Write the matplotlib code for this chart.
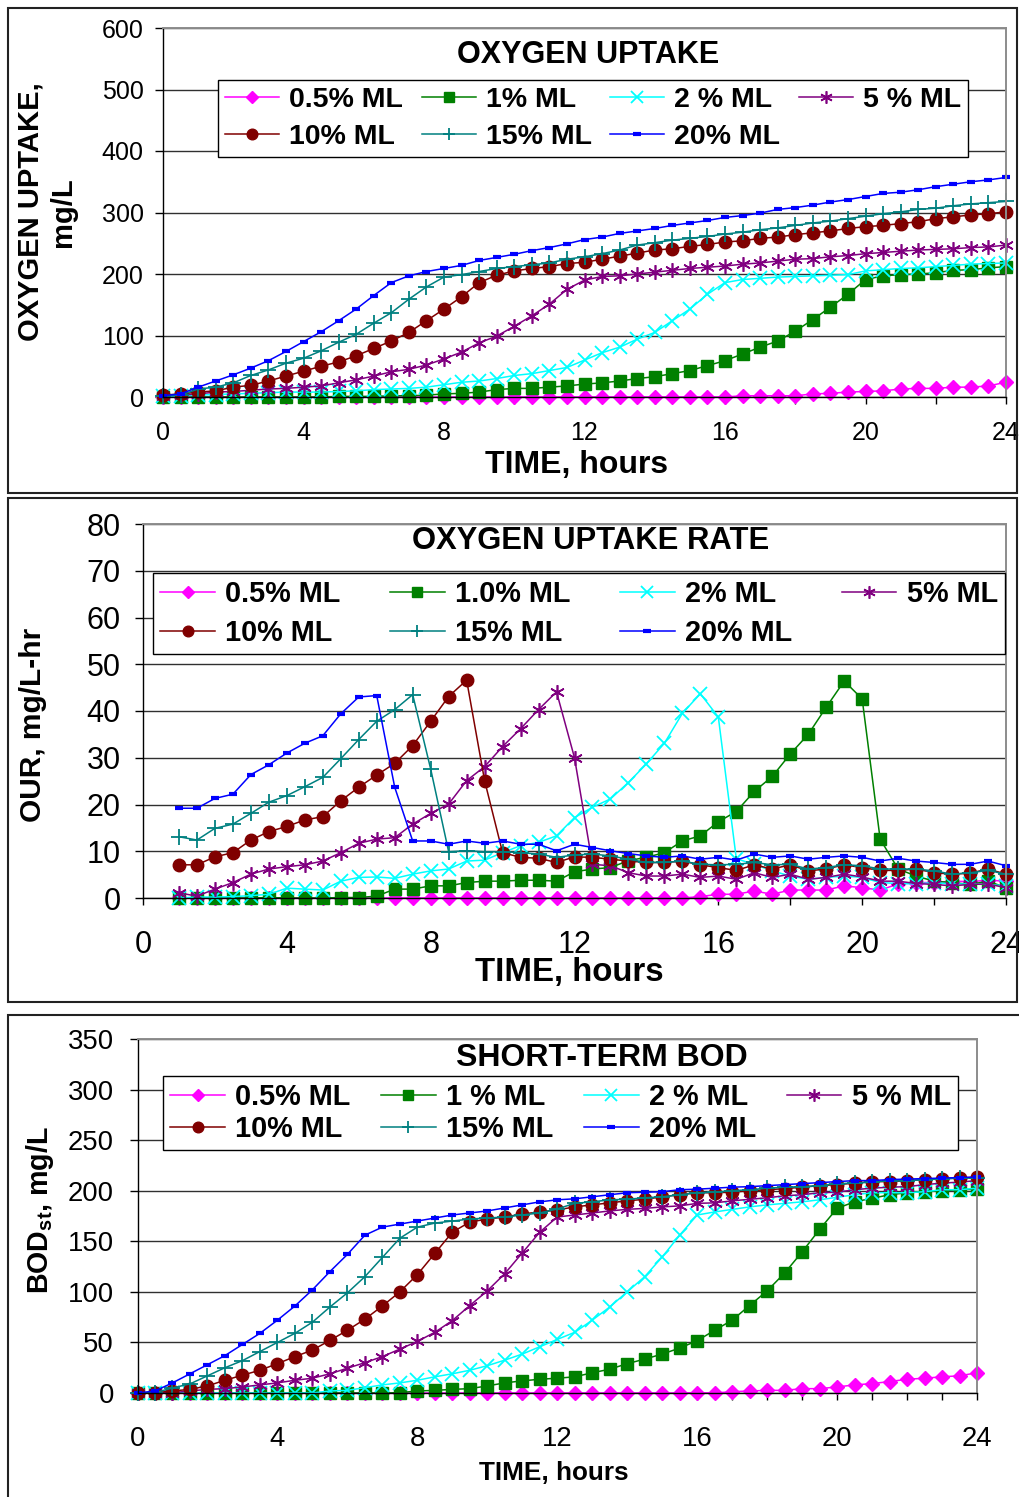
import matplotlib
matplotlib.use("Agg")
import matplotlib.pyplot as plt
from matplotlib.patches import Rectangle

plt.rcParams['font.family'] = ['Liberation Sans', 'DejaVu Sans']
plt.rcParams['mathtext.fontset'] = 'custom'
plt.rcParams['mathtext.rm'] = 'Liberation Sans:bold'
plt.rcParams['mathtext.bf'] = 'Liberation Sans:bold'

W, H = 1019, 1497

# sampling times, hours
HOURS = [0, 0.5, 1, 1.5, 2, 2.5, 3, 3.5, 4, 4.5, 5, 5.5, 6, 6.5, 7, 7.5, 8, 8.5,
         9, 9.5, 10, 10.5, 11, 11.5, 12, 12.5, 13, 13.5, 14, 14.5, 15, 15.5, 16,
         16.5, 17, 17.5, 18, 18.5, 19, 19.5, 20, 20.5, 21, 21.5, 22, 22.5, 23,
         23.5, 24]
OUR_HOURS = [1, 1.5, 2, 2.5, 3, 3.5, 4, 4.5, 5, 5.5, 6, 6.5, 7, 7.5, 8, 8.5,
             9, 9.5, 10, 10.5, 11, 11.5, 12, 12.5, 13, 13.5, 14, 14.5, 15, 15.5,
             16, 16.5, 17, 17.5, 18, 18.5, 19, 19.5, 20, 20.5, 21, 21.5, 22,
             22.5, 23, 23.5, 24]

# ---- OXYGEN UPTAKE, mg/L ----
UP_05 = [0, 0, 0, 0, 0, 0, 0, 0, 0, 0, 0, 0, 0, 0, 0, 0, 0, 0, 0, 0, 0, 0, 0, 0, 0,
         0, 0, 0, 0, 0, 0, 0, 0, 2, 2, 2, 2, 5, 6, 8, 9, 10, 13, 14, 14, 16, 16, 18, 24]
UP_1 = [0, 0, 0, 0, 0, 0, 0, 0, 0, 0, 1, 1, 1, 2, 2, 3, 5, 6, 8, 12, 14, 14, 16, 18, 21,
        23, 26, 30, 33, 38, 43, 51, 59, 70, 81, 91, 107, 126, 146, 167, 191, 197, 199,
        200, 202, 206, 207, 210, 212]
UP_2 = [1, 2, 3, 4, 5, 6, 7, 8, 8, 8, 9, 10, 12, 13, 14, 16, 20, 24, 26, 30, 35, 38, 43,
        48, 60, 72, 81, 94, 105, 124, 143, 167, 186, 191, 193, 195, 196, 197, 198, 199,
        205, 207, 209, 210, 212, 214, 216, 217, 218]
UP_5 = [2, 3, 5, 8, 9, 11, 13, 14, 16, 18, 23, 28, 34, 41, 45, 52, 62, 73, 88, 99, 115,
        132, 151, 175, 190, 196, 197, 200, 203, 206, 209, 211, 213, 216, 218, 221, 224,
        225, 228, 230, 233, 235, 237, 239, 240, 241, 243, 244, 247]
UP_10 = [3, 5, 8, 10, 16, 19, 26, 34, 42, 50, 57, 67, 79, 91, 105, 124, 143, 163, 186,
         198, 205, 209, 212, 217, 219, 224, 229, 234, 239, 241, 245, 248, 252, 254, 258,
         260, 264, 267, 270, 274, 277, 279, 282, 285, 290, 293, 296, 298, 301]
UP_15 = [2, 3, 13, 16, 23, 35, 44, 55, 63, 75, 89, 102, 120, 137, 159, 179, 195, 199,
         204, 209, 212, 215, 218, 224, 228, 233, 239, 247, 251, 255, 258, 261, 265, 268,
         272, 275, 279, 283, 286, 290, 294, 298, 301, 305, 307, 311, 314, 316, 318]
UP_20 = [2, 5, 16, 26, 36, 47, 59, 74, 90, 106, 124, 143, 165, 186, 197, 204, 209, 214,
         222, 227, 232, 238, 243, 249, 256, 260, 266, 270, 274, 279, 283, 287, 292, 295,
         299, 305, 308, 312, 317, 321, 326, 331, 333, 337, 342, 346, 350, 353, 357]

# ---- OXYGEN UPTAKE RATE, mg/L-hr ----
OUR_05 = [0, 0, 0, 0, 0, 0, 0, 0, 0, 0, 0, 0, 0, 0, 0, 0, 0, 0, 0, 0, 0, 0, 0, 0, 0,
          0, 0, 0, 0, 0.3, 0.8, 0.8, 1.5, 0.8, 1.7, 1.7, 1.7, 2.6, 2.2, 1.7, 3.0, 3.3,
          3.3, 3.6, 3.5, 3.8, 3.6]
OUR_1 = [0, 0, 0, 0, 0, 0.1, 0, 0, 0, 0.1, 0.1, 0.4, 1.9, 1.9, 2.6, 2.6, 3.3, 3.6, 3.6,
         3.8, 3.8, 3.6, 5.6, 6.2, 6.5, 8.0, 8.7, 9.7, 12.2, 13.3, 16.3, 18.5, 22.8, 26.0,
         30.8, 35.0, 40.8, 46.4, 42.6, 12.6, 6.2, 4.7, 3.6, 3.3, 2.9, 3.6, 2.2]
OUR_2 = [0.0, 0.2, 0.2, 0.3, 0.5, 0.8, 2.1, 1.9, 1.7, 3.6, 4.4, 4.5, 4.2, 5.1, 5.8, 6.2,
         7.9, 8.1, 9.7, 11.2, 11.9, 13.3, 17.2, 19.4, 21.2, 24.7, 28.7, 33.1, 39.5, 43.7,
         38.7, 8.4, 7.2, 5.8, 4.7, 4.0, 4.4, 4.7, 4.4, 3.3, 3.1, 3.0, 3.3, 3.0, 3.0, 2.9,
         2.6]
OUR_5 = [1.1, 0.4, 1.9, 3.3, 5.1, 6.2, 6.7, 7.1, 7.9, 9.7, 11.7, 12.6, 12.9, 15.8, 18.1,
         20.1, 25.1, 28.1, 32.4, 36.2, 40.3, 44.1, 30.0, 7.2, 6.9, 5.4, 4.7, 4.7, 5.1,
         4.4, 4.7, 4.0, 5.4, 4.4, 5.1, 4.0, 4.4, 5.1, 4.5, 3.6, 3.6, 3.1, 2.9, 2.6, 2.9,
         3.0, 2.2]
OUR_10 = [7.1, 7.1, 8.8, 9.7, 12.4, 14.2, 15.3, 16.7, 17.4, 20.8, 23.7, 26.3, 28.8,
          32.6, 37.8, 43.1, 46.6, 25.1, 9.7, 8.7, 8.5, 7.6, 8.8, 8.7, 8.3, 7.9, 7.6, 7.6,
          7.9, 7.1, 6.5, 5.9, 7.1, 6.2, 7.1, 5.8, 6.2, 7.1, 6.5, 5.9, 5.9, 6.2, 5.4, 5.1,
          5.3, 6.2, 5.1]
OUR_15 = [13.1, 12.4, 14.9, 15.8, 18.1, 20.5, 21.9, 23.8, 25.8, 29.8, 33.9, 37.8, 40.3,
          43.5, 27.6, 9.9, 10.1, 9.9, 9.9, 9.7, 9.4, 8.7, 9.2, 9.4, 9.0, 8.3, 7.6, 7.6,
          7.9, 7.2, 7.1, 7.2, 7.6, 7.1, 7.2, 6.2, 6.5, 7.1, 6.9, 6.2, 6.2, 6.2, 5.8, 5.1,
          5.4, 5.9, 5.1]
OUR_20 = [19.2, 19.2, 21.3, 22.2, 26.4, 28.5, 31.0, 33.1, 34.7, 39.4, 43.0, 43.3, 23.7,
          12.2, 12.2, 11.5, 12.2, 11.7, 12.2, 11.5, 11.5, 10.1, 11.5, 10.8, 10.1, 9.5,
          9.0, 8.7, 9.0, 8.3, 8.7, 8.1, 9.4, 8.7, 9.0, 8.3, 8.7, 9.0, 8.7, 7.9, 8.5, 7.9,
          7.6, 7.2, 7.2, 7.9, 6.9]

# ---- SHORT-TERM BOD, mg/L ----
BOD_05 = [0, 0, 0, 0, 0, 0, 0, 0, 0, 0, 0, 0, 0, 0, 0, 0, 0, 0, 0, 0, 0, 0, 0, 0, 0,
          0, 0, 0, 0, 0, 0, 0, 0.3, 0, 1.3, 2, 2.6, 2.6, 4.3, 4.3, 6, 8, 9.3, 11.3, 13.6,
          14.6, 16, 17, 20]
BOD_1 = [0, 0, 0, 0, 0, 0, 0, 0, 0, 0, 0, 0, 0, 0, 0, 0.3, 2, 2.6, 3.6, 4.3, 7, 10, 12,
         13.6, 14.6, 16, 20, 23.5, 29, 33.5, 38.5, 44.4, 51.7, 62, 72, 86.5, 101, 118.6,
         139.5, 161.7, 182.6, 189, 192.5, 196, 198, 199, 200, 201, 201.5]
BOD_2 = [0, 0, 0, 0, 0, 0, 0, 0, 0, 0, 0, 2, 2.6, 5.3, 8, 10, 12.6, 16, 19, 22.5, 27,
         32.5, 38.5, 45.7, 53, 60, 72, 85, 100, 115, 134.5, 156, 176, 179, 181.5, 184,
         186, 187.5, 189, 191, 193.5, 196, 198, 198, 198, 199, 201, 201, 202.5]
BOD_5 = [0, 0, 0.3, 2, 3.6, 4.3, 6, 8, 10, 12.6, 14.6, 19, 24.5, 30, 36, 43.4, 51, 60,
         71.6, 86.5, 101, 118, 138.5, 159, 174, 176, 178, 180, 181.6, 182.5, 184, 185,
         187.5, 188, 190, 191.5, 193, 195, 196, 198, 198.5, 201, 202.5, 203.5, 204, 206,
         207.5, 208.5, 210]
BOD_10 = [0, 0.3, 2, 3.6, 7, 12.6, 17.6, 22.5, 29, 36, 42.4, 52, 62, 73, 86, 100, 117,
          138, 159, 169, 172, 174, 177, 179, 181, 184, 186, 188, 190, 191.5, 194, 196,
          198, 198, 198.5, 200, 201, 202, 203.5, 205, 206, 207.5, 209, 209, 210, 211,
          212, 212.5, 213.5]
BOD_15 = [0, 0.3, 5, 9, 17, 25, 32, 41, 50, 59, 70, 85, 99, 115, 134, 153, 164, 168,
          170, 172, 173, 174, 176, 178, 182, 187.5, 189, 191, 191.5, 193, 194, 196, 198,
          198.5, 200, 201, 202.5, 203.5, 204, 205, 207, 207.5, 208.5, 210, 210, 211,
          211.5, 212.5, 212.5]
BOD_20 = [0, 2, 10, 19, 28, 37, 48, 59, 72, 86, 102, 120, 137, 156, 164, 167, 170, 173,
          176, 178, 180, 183, 186, 189, 191, 192, 194, 196, 198, 198.5, 199, 201, 201.5,
          202.5, 203.5, 204, 205, 206, 207, 208, 209, 210, 210, 211, 211.5, 212, 212.5,
          213, 213.5]

LABELS_UP = ["0.5% ML", "1% ML", "2 % ML", "5 % ML", "10% ML", "15% ML", "20% ML"]
LABELS_OUR = ["0.5% ML", "1.0% ML", "2% ML", "5% ML", "10% ML", "15% ML", "20% ML"]
LABELS_BOD = ["0.5% ML", "1 % ML", "2 % ML", "5 % ML", "10% ML", "15% ML", "20% ML"]

# excel-like series look
STYLES = [
    dict(color='#FF00FF', marker='D', ms=7),
    dict(color='#008000', marker='s', ms=8.5),
    dict(color='#00FFFF', marker='x', ms=9.5, mew=1.3),
    dict(color='#800080', marker=(6, 2, 0), ms=10.5, mew=1.2),
    dict(color='#800000', marker='o', ms=9),
    dict(color='#008080', marker='+', ms=11, mew=1.3),
    dict(color='#0000FF', marker='_', ms=6, mew=3),
]


def px_rect(l, t, r, b):
    return [l / W, 1 - b / H, (r - l) / W, (b - t) / H]


def put_text(x, y, s, **kw):
    fig.text(x / W, 1 - y / H, s, ha='center', va='center', **kw)


def frame(l, t, r, b):
    fig.patches.append(Rectangle((l / W, 1 - b / H), (r - l) / W, (b - t) / H,
                                 transform=fig.transFigure, fill=False,
                                 ec='#222222', lw=1.5))


def draw_panel(ax, hours, series, labels, ymax, ystep, minor_step, tick_size,
               ypad, xpad, legend_px, legend_size, spacing):
    for values, style, label in zip(series, STYLES, labels):
        ax.plot(hours, values, label=label, lw=1.1, clip_on=False, **style)
    ax.set_xlim(0, 24)
    ax.set_ylim(0, ymax)
    ax.set_xticks([0, 4, 8, 12, 16, 20, 24])
    ax.set_xticks([h for h in range(25) if h % minor_step == 0], minor=True)
    ax.set_yticks(list(range(0, ymax + 1, ystep)))
    ax.set_axisbelow(True)
    ax.grid(axis='y', color='#303030', lw=1.0)
    for side in ['left', 'bottom']:
        ax.spines[side].set_color('black')
        ax.spines[side].set_linewidth(1.0)
    for side in ['top', 'right']:
        ax.spines[side].set_color('#8c8c8c')
        ax.spines[side].set_linewidth(1.4)
    ax.tick_params(axis='y', direction='out', length=6, width=1, pad=ypad,
                   labelsize=tick_size)
    ax.tick_params(axis='x', which='both', direction='out', length=5, width=1,
                   pad=xpad, labelsize=tick_size)

    handles, names = ax.get_legend_handles_labels()
    order = [0, 4, 1, 5, 2, 6, 3]
    l, t, r, b = legend_px
    leg = ax.legend([handles[i] for i in order], [names[i] for i in order],
                    ncol=4, mode='expand', loc='upper left',
                    bbox_to_anchor=(l / W, 1 - b / H, (r - l) / W, (b - t) / H),
                    bbox_transform=fig.transFigure, borderaxespad=0,
                    prop=dict(weight='bold', size=legend_size),
                    handlelength=1.9, handletextpad=0.35, labelspacing=spacing,
                    borderpad=0.25, fancybox=False, framealpha=1,
                    edgecolor='black', markerscale=0.85)
    leg.get_frame().set_linewidth(1.0)


fig = plt.figure(figsize=(W / 100, H / 100), dpi=100)

# panel 1
ax1 = fig.add_axes(px_rect(163, 28, 1006, 397))
draw_panel(ax1, HOURS, [UP_05, UP_1, UP_2, UP_5, UP_10, UP_15, UP_20], LABELS_UP,
           600, 100, 2, 18, 8, 12, (218, 80, 968, 158), 20.5, 0.38)
frame(8, 8, 1017, 493)
put_text(588, 55, "OXYGEN UPTAKE", fontsize=22, fontweight='bold')
put_text(47, 212, "OXYGEN UPTAKE,\nmg/L", fontsize=21, fontweight='bold',
         rotation=90, multialignment='center', linespacing=1.2)
put_text(577, 465, "TIME, hours", fontsize=23, fontweight='bold')

# panel 2
ax2 = fig.add_axes(px_rect(143, 524, 1006, 898))
draw_panel(ax2, OUR_HOURS, [OUR_05, OUR_1, OUR_2, OUR_5, OUR_10, OUR_15, OUR_20],
           LABELS_OUR, 80, 10, 2, 22, 10, 18, (153, 573, 1005, 655), 20.8, 0.38)
frame(8, 498, 1017, 1002)
put_text(591, 541, "OXYGEN UPTAKE RATE", fontsize=22.3, fontweight='bold')
put_text(33, 725, "OUR, mg/L-hr", fontsize=21.5, fontweight='bold', rotation=90)
put_text(569, 973, "TIME, hours", fontsize=23.8, fontweight='bold')

# panel 3
ax3 = fig.add_axes(px_rect(137.5, 1039, 977, 1393))
draw_panel(ax3, HOURS, [BOD_05, BOD_1, BOD_2, BOD_5, BOD_10, BOD_15, BOD_20],
           LABELS_BOD, 350, 50, 1, 19.8, 11, 19, (163, 1076, 958, 1146), 20.8, 0.12)
frame(8, 1015, 1030, 1510)
put_text(602, 1058, "SHORT-TERM BOD", fontsize=23, fontweight='bold')
put_text(40, 1210, r"BOD$_{\mathrm{st}}$, mg/L", fontsize=20.6, fontweight='bold',
         rotation=90)
put_text(554, 1473, "TIME, hours", fontsize=18.8, fontweight='bold')

fig.savefig("out.png", dpi=100)
